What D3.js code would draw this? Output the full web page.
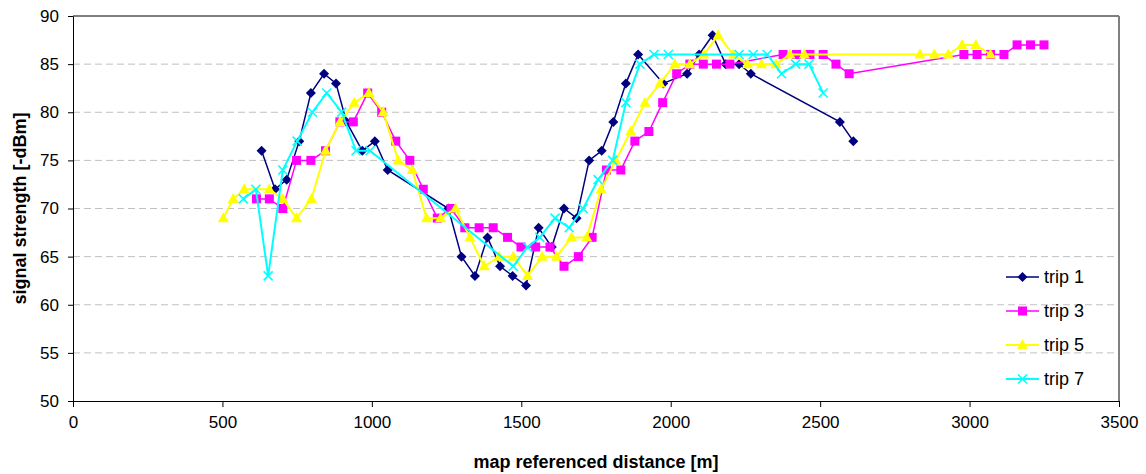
<!DOCTYPE html>
<meta charset="utf-8">
<head>
  <title>signal strength</title>
</head>
<style>
body {
  margin: 0;
  background: #fff;
  font-family: Arial, "Liberation Sans", sans-serif;
}
.grid line { stroke: #c0c0c0; stroke-dasharray: 7,4; }
.axis text { font-size: 17px; fill: #000; font-family: Arial, "Liberation Sans", sans-serif; }
.axis path, .axis line { stroke: #000; }
</style>
<body>
<svg id="chart" width="1146" height="474"></svg>
<script src="https://cdnjs.cloudflare.com/ajax/libs/d3/7.8.5/d3.min.js"></script>
<script>
// trip data: [distance m, signal -dBm]
var trip1 = [[631,76],[676,72],[715,73],[757,77],[796,82],[840,84],[880,83],[915,79],[968,76],[1010,77],[1053,74],
  [1256,70],[1300,65],[1345,63],[1387,67],[1429,64],[1471,63],[1516,62],[1558,68],[1602,66],[1643,70],[1685,69],
  [1727,75],[1769,76],[1808,79],[1850,83],[1891,86],[1975,83],[2055,84],[2095,86],[2140,88],[2184,85],[2229,85],
  [2268,84],[2566,79],[2611,77]];
var trip3 = [[614,71],[657,71],[702,70],[748,75],[796,75],[845,76],[893,79],[938,79],[986,82],[1033,80],[1080,77],
  [1127,75],[1172,72],[1219,69],[1265,70],[1311,68],[1359,68],[1406,68],[1454,67],[1499,66],[1548,66],[1596,66],
  [1643,64],[1691,65],[1737,67],[1785,74],[1833,74],[1880,77],[1927,78],[1973,81],[2020,84],[2064,85],[2109,85],
  [2153,85],[2198,85],[2376,86],[2421,86],[2466,86],[2510,86],[2553,85],[2597,84],[2981,86],[3025,86],[3070,86],
  [3115,86],[3159,87],[3204,87],[3249,87]];
var trip5 = [[503,69],[536,71],[573,72],[657,72],[702,71],[748,69],[798,71],[845,76],[893,79],[941,81],[990,82],
  [1038,80],[1088,75],[1135,74],[1183,69],[1230,69],[1280,70],[1328,67],[1376,64],[1426,65],[1473,65],[1521,63],
  [1570,65],[1618,65],[1668,67],[1719,67],[1767,72],[1816,75],[1866,78],[1914,81],[1964,83],[2014,85],[2064,85],
  [2111,86],[2159,88],[2209,86],[2257,85],[2304,85],[2352,85],[2399,86],[2447,86],[2834,86],[2882,86],[2929,86],
  [2975,87],[3021,87],[3070,86]];
var trip7 = [[570,71],[612,72],[653,63],[702,74],[750,77],[801,80],[849,82],[899,80],[947,76],[994,76],[1473,64],
  [1521,66],[1562,67],[1613,69],[1660,68],[1707,70],[1757,73],[1806,75],[1850,81],[1897,85],[1944,86],[1992,86],
  [2229,86],[2276,86],[2323,86],[2371,84],[2418,85],[2463,85],[2510,82]];

var seriesNames = ["trip 1", "trip 3", "trip 5", "trip 7"];
var seriesData = [trip1, trip3, trip5, trip7];
var seriesColors = ["#000080", "#ff00ff", "#ffff00", "#00ffff"];
var seriesMarkers = ["diamond", "square", "triangle", "x"];
var seriesWidths = [1.5, 1.5, 2, 2];

var xTicks = [0, 500, 1000, 1500, 2000, 2500, 3000, 3500];
var yTicks = [50, 55, 60, 65, 70, 75, 80, 85, 90];

var svg = d3.select("#chart");
var plotLeft = 73, plotRight = 1119, plotTop = 16, plotBottom = 401;

var x = d3.scaleLinear().domain([0, 3500]).range([plotLeft, plotRight]);
var y = d3.scaleLinear().domain([50, 90]).range([plotBottom, plotTop]);

// gridlines
svg.append("g").attr("class", "grid")
  .selectAll("line")
  .data(yTicks.slice(1, -1))
  .enter().append("line")
  .attr("x1", plotLeft).attr("x2", plotRight)
  .attr("y1", function(d) { return y(d); })
  .attr("y2", function(d) { return y(d); });

// plot area border (top + right)
svg.append("line").attr("x1", plotLeft).attr("x2", plotRight).attr("y1", plotTop).attr("y2", plotTop)
  .attr("stroke", "#000");
svg.append("line").attr("x1", plotRight).attr("x2", plotRight).attr("y1", plotTop).attr("y2", plotBottom)
  .attr("stroke", "#808080").attr("stroke-width", 2);

var xAxis = d3.axisBottom(x).tickValues(xTicks).tickFormat(d3.format("d"))
  .tickSize(6).tickPadding(9).tickSizeOuter(0);
svg.append("g").attr("class", "axis")
  .attr("transform", "translate(0," + plotBottom + ")")
  .call(xAxis);

var yAxis = d3.axisLeft(y).tickValues(yTicks).tickSize(5).tickPadding(9).tickSizeOuter(0);
svg.append("g").attr("class", "axis")
  .attr("transform", "translate(" + plotLeft + ",0)")
  .call(yAxis);

// axis titles
svg.append("text")
  .attr("x", (plotLeft + plotRight) / 2).attr("y", 468)
  .attr("text-anchor", "middle")
  .style("font-size", "18px").style("font-weight", "bold")
  .text("map referenced distance [m]");

svg.append("text")
  .attr("transform", "translate(26," + ((plotTop + plotBottom) / 2) + ") rotate(-90)")
  .attr("text-anchor", "middle")
  .style("font-size", "18px").style("font-weight", "bold")
  .text("signal strength [-dBm]");

function drawMarker(g, type, color) {
  if (type === "diamond") {
    g.append("path").attr("d", "M0,-5L5,0L0,5L-5,0Z").attr("fill", color);
  } else if (type === "square") {
    g.append("rect").attr("x", -4.5).attr("y", -4.5).attr("width", 9).attr("height", 9).attr("fill", color);
  } else if (type === "triangle") {
    g.append("path").attr("d", "M0,-6L5.5,4L-5.5,4Z").attr("fill", color);
  } else {
    g.append("path").attr("d", "M-4.5,-4.5L4.5,4.5M-4.5,4.5L4.5,-4.5")
      .attr("stroke", color).attr("stroke-width", 1.6).attr("fill", "none");
  }
}

var line = d3.line()
  .x(function(d) { return x(d[0]); })
  .y(function(d) { return y(d[1]); });

seriesData.forEach(function(data, i) {
  var g = svg.append("g");
  g.append("path")
    .datum(data)
    .attr("d", line)
    .attr("fill", "none")
    .attr("stroke", seriesColors[i])
    .attr("stroke-width", seriesWidths[i]);
  data.forEach(function(d) {
    var m = g.append("g").attr("transform", "translate(" + x(d[0]) + "," + y(d[1]) + ")");
    drawMarker(m, seriesMarkers[i], seriesColors[i]);
  });
});

// legend
var legend = svg.append("g");
seriesNames.forEach(function(name, i) {
  var ly = 277 + i * 34;
  var item = legend.append("g").attr("transform", "translate(0," + ly + ")");
  item.append("line").attr("x1", 1006).attr("x2", 1039).attr("y1", 0).attr("y2", 0)
    .attr("stroke", seriesColors[i]).attr("stroke-width", seriesWidths[i]);
  var m = item.append("g").attr("transform", "translate(1022.5,0)");
  drawMarker(m, seriesMarkers[i], seriesColors[i]);
  item.append("text").attr("x", 1044).attr("y", 6)
    .style("font-size", "18px")
    .text(name);
});
</script>
</body>
</html>
